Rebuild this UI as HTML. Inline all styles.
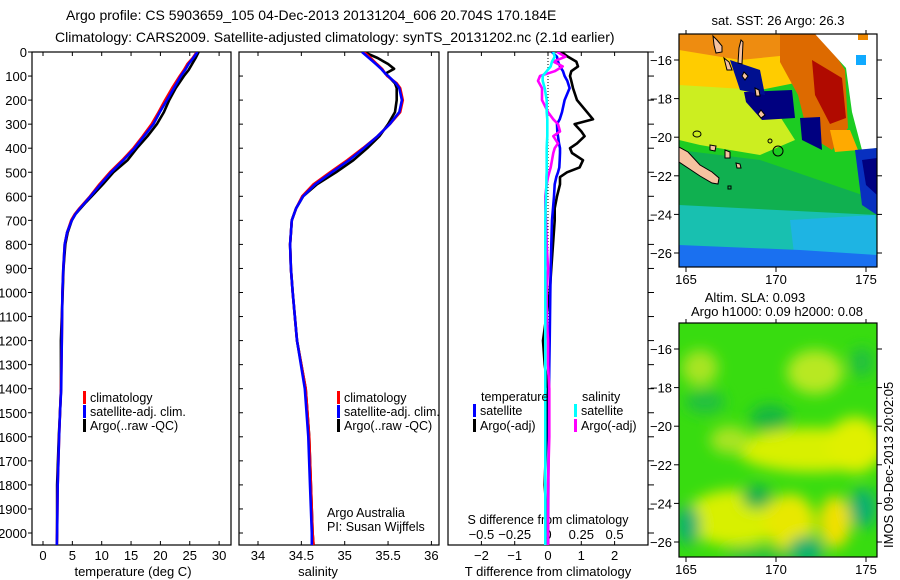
<!DOCTYPE html>
<html><head><meta charset="utf-8"><style>
body{margin:0;background:#fff;}
svg{display:block;font-family:"Liberation Sans",sans-serif;}
text{fill:#000;}
</style></head><body>
<svg id="fig" width="900" height="580" viewBox="0 0 900 580">
<defs>
<filter id="blur8" x="-20%" y="-20%" width="140%" height="140%"><feGaussianBlur stdDeviation="7"/></filter>
<clipPath id="m1clip"><rect x="679" y="34" width="198" height="233"/></clipPath>
<clipPath id="m2clip"><rect x="679" y="323" width="198" height="234"/></clipPath>
<clipPath id="p1c"><rect x="32" y="52" width="199" height="493"/></clipPath>
<clipPath id="p2c"><rect x="239" y="52" width="200" height="493"/></clipPath>
<clipPath id="p3c"><rect x="448" y="52" width="200" height="493"/></clipPath>
</defs>
<text x="66" y="20" font-size="14">Argo profile: CS 5903659_105 04-Dec-2013 20131204_606 20.704S 170.184E</text>
<text x="55" y="42" font-size="14">Climatology: CARS2009. Satellite-adjusted climatology: synTS_20131202.nc (2.1d earlier)</text>

<g id="panels"></g>

<!-- SST map -->
<g>
<text x="778" y="25" font-size="13" text-anchor="middle">sat. SST: 26 Argo: 26.3</text>
<g clip-path="url(#m1clip)">
<rect x="679" y="34" width="198" height="233" fill="#1ccc22"/>
<polygon points="679,150 760,160 877,200 877,267 679,267" fill="#10b050"/>
<polygon points="679,205 877,215 877,267 679,267" fill="#18c0b0"/>
<polygon points="790,220 875,215 877,262 795,262" fill="#20b0f0" opacity="0.8"/>
<polygon points="679,245 800,250 877,255 877,267 679,267" fill="#1a70f0"/>
<polygon points="679,80 760,85 795,140 760,155 700,145 679,140" fill="#ccee20"/>
<polygon points="679,34 800,34 810,80 760,90 679,85" fill="#ffcc00"/>
<polygon points="679,34 790,34 790,55 740,60 679,50" fill="#ee8c10"/>
<polygon points="780,34 822,34 845,70 848,128 832,150 808,135 798,95 780,62" fill="#dd6a00"/>
<polygon points="812,60 842,78 846,118 830,124 815,95" fill="#b00a00"/>
<polygon points="830,130 850,130 858,150 835,152" fill="#ffaa00"/>
<polygon points="815,34 877,34 877,148 862,150 852,112 846,68" fill="#ffffff"/>
<rect x="856" y="55" width="10" height="10" fill="#10aaff"/>
<rect x="858" y="34" width="10" height="6" fill="#ee8800"/>
<polygon points="744,92 792,90 795,118 762,120 746,102" fill="#000080"/>
<polygon points="730,60 760,70 765,95 740,90" fill="#001090"/>
<polygon points="800,118 820,117 822,150 802,140" fill="#000080"/>
<polygon points="855,150 877,148 877,215 862,205" fill="#0830c0"/>
<polygon points="862,160 877,158 877,195 866,185" fill="#000080"/>
</g>
<rect x="679" y="34" width="198" height="233" fill="none" stroke="#000" stroke-width="1.2"/>
</g>

<!-- SLA map -->
<g>
<text x="755" y="302" font-size="13" text-anchor="middle">Altim. SLA: 0.093</text>
<text x="777" y="316" font-size="13" text-anchor="middle">Argo h1000: 0.09 h2000: 0.08</text>
<g clip-path="url(#m2clip)">
<rect x="679" y="323" width="198" height="234" fill="#38dc10"/>
<g filter="url(#blur8)">
<ellipse cx="812" cy="450" rx="75" ry="22" fill="#d8f000"/>
<ellipse cx="855" cy="445" rx="28" ry="28" fill="#e0f000"/>
<ellipse cx="735" cy="518" rx="50" ry="28" fill="#d8f000"/>
<ellipse cx="790" cy="522" rx="25" ry="28" fill="#e8e800"/>
<ellipse cx="835" cy="522" rx="16" ry="26" fill="#f0e000"/>
<ellipse cx="815" cy="372" rx="28" ry="22" fill="#b8e820"/>
<ellipse cx="700" cy="368" rx="18" ry="18" fill="#a8e420"/>
<ellipse cx="730" cy="440" rx="20" ry="14" fill="#a8e420"/>
<ellipse cx="770" cy="418" rx="20" ry="14" fill="#18b840"/>
<ellipse cx="757" cy="497" rx="15" ry="12" fill="#18b050"/>
<ellipse cx="806" cy="550" rx="18" ry="14" fill="#10b070"/>
<ellipse cx="863" cy="508" rx="14" ry="20" fill="#10b070"/>
<ellipse cx="688" cy="525" rx="12" ry="20" fill="#10b070"/>
<ellipse cx="705" cy="402" rx="20" ry="12" fill="#20c040"/>
<ellipse cx="862" cy="362" rx="12" ry="15" fill="#20c040"/>
<ellipse cx="760" cy="555" rx="35" ry="8" fill="#20c040"/>
</g>
</g>
<rect x="679" y="323" width="198" height="234" fill="none" stroke="#000" stroke-width="1.2"/>
</g>
<text transform="translate(893,548) rotate(-90)" font-size="13">IMOS 09-Dec-2013 20:02:05</text>

<g id="maps-extra"></g>
</svg>
<script>
// ---------- profile data ----------
const depthT = [0,25,50,75,100,150,200,250,300,350,400,450,500,550,600,625,650,675,700,750,800,900,1000,1200,1400,1500,1600,1800,2000,2050];
const tempClim = [26.2,25.5,24.6,24.0,23.3,22.0,20.8,19.7,18.5,17.0,15.4,13.5,11.4,9.6,8.0,7.1,6.2,5.4,4.8,4.1,3.7,3.45,3.3,3.2,3.07,2.9,2.75,2.5,2.4,2.35];
const tempSat = [26.3,25.6,24.8,24.2,23.5,22.3,21.1,19.9,18.8,17.2,15.6,13.7,11.6,9.8,8.1,7.2,6.3,5.5,4.9,4.1,3.7,3.45,3.3,3.2,3.1,2.9,2.75,2.5,2.4,2.35];
const tempArgo = [26.5,26.0,25.4,24.8,24.0,22.6,21.5,20.6,19.4,17.8,16.0,14.4,12.0,10.2,8.3,7.3,6.4,5.5,4.9,4.2,3.8,3.5,3.35,3.05,3.07,2.9,2.7,2.4,2.4,2.35];
const depthS = [0,25,50,70,90,100,130,150,200,250,300,350,400,450,500,550,600,650,700,800,900,1000,1200,1400,1600,1800,2000,2050];
const salClim = [35.22,35.3,35.37,35.43,35.47,35.49,35.6,35.64,35.67,35.64,35.52,35.38,35.21,35.03,34.83,34.64,34.51,34.44,34.39,34.37,34.38,34.40,34.45,34.55,34.59,34.61,34.63,34.64];
const salSat = [35.2,35.28,35.36,35.42,35.47,35.5,35.59,35.63,35.66,35.63,35.52,35.38,35.22,35.05,34.85,34.66,34.52,34.44,34.39,34.37,34.38,34.40,34.45,34.54,34.58,34.60,34.62,34.62];
const salArgo = [35.22,35.38,35.5,35.57,35.47,35.5,35.58,35.6,35.6,35.58,35.5,35.4,35.26,35.1,34.9,34.68,34.52,34.44,34.39,34.37,34.38,34.40,34.45,34.55,34.59,34.61,34.63,34.64];
const depthD = [0,20,40,60,80,100,120,150,200,250,280,300,330,350,380,400,420,450,480,500,520,550,600,650,700,800,900,1000,1100,1200,1300,1400,1600,1800,2000,2050];
const dTArgo = [0.4,0.6,0.85,0.9,0.7,0.66,0.7,0.75,0.87,1.17,1.35,0.8,1.0,1.1,0.87,0.66,0.72,1.05,0.95,0.57,0.36,0.36,0.27,0.2,0.2,0.15,0.1,0.05,-0.05,-0.15,-0.1,0,-0.05,-0.1,0,0];
const dTSat = [0.12,0.27,0.3,0.36,0.45,0.5,0.58,0.65,0.5,0.42,0.35,0.27,0.28,0.3,0.33,0.36,0.36,0.35,0.34,0.3,0.25,0.2,0.18,0.15,0.12,0.1,0.08,0.07,0.06,0.05,0.04,0.03,0.02,0.01,0,0];
const dSArgo = [0.07,0.13,0.04,0.11,0.05,-0.06,-0.075,-0.045,-0.045,0,0.04,0.075,0.09,0.04,0.075,0.05,0.04,0.03,0.02,0.01,0,-0.01,-0.02,-0.02,-0.015,-0.01,0,-0.01,-0.01,0,0,0.01,0.01,0,0,0];
const dSSat = [0.04,0.05,0.03,0.02,-0.01,-0.04,-0.04,-0.025,-0.01,-0.01,-0.005,-0.005,-0.005,-0.005,-0.008,-0.01,-0.01,-0.01,-0.01,-0.01,-0.012,-0.012,-0.015,-0.018,-0.02,-0.02,-0.02,-0.02,-0.02,-0.02,-0.02,-0.02,-0.02,-0.02,-0.02,-0.02];
const depthTicks = [0,100,200,300,400,500,600,700,800,900,1000,1100,1200,1300,1400,1500,1600,1700,1800,1900,2000];
const tempTicks = [0,5,10,15,20,25,30];
const salTicks = [34,34.5,35,35.5,36];
const dTTicks = [-2,-1,0,1,2];
const dSTicks = [-0.5,-0.25,0,0.25,0.5];
const latTicks = [-16,-18,-20,-22,-24,-26];
const lonTicks = [165,170,175];

const NS='http://www.w3.org/2000/svg';
const G=document.getElementById('panels');
function mk(tag,attrs,parent){const e=document.createElementNS(NS,tag);for(const k in attrs)e.setAttribute(k,attrs[k]);(parent||G).appendChild(e);return e;}
const yD=d=>52+d*0.2405;
const xT=v=>43+v*5.87;
const xS=v=>258+(v-34)*86.7;
const xDT=v=>548+v*33.3;
const xDS=v=>548+v*133.2;

function box(x,y,w,h,name){const r=mk('rect',{x:x,y:y,width:w,height:h,fill:'none',stroke:'#000','stroke-width':1.2});}
function line(x1,y1,x2,y2,parent){const l=mk('line',{x1:x1,y1:y1,x2:x2,y2:y2,stroke:'#000','stroke-width':1},parent);return l;}
function txt(x,y,s,size,anchor,name,parent){const t=mk('text',{x:x,y:y,'font-size':size,'text-anchor':anchor||'start'},parent);t.textContent=s;return t;}
function series(xs,ds,xf,color,clip,name){
  const pts=xs.map((v,i)=>xf(v).toFixed(1)+','+yD(ds[i]).toFixed(1)).join(' ');
  const p=mk('polyline',{points:pts,fill:'none',stroke:color,'stroke-width':2.6,'stroke-linejoin':'round','clip-path':'url(#'+clip+')'});
  
  
}
function legendEntry(x,y,color,label,name){
  const r=mk('rect',{x:x,y:y-11,width:3,height:13,fill:color});
  
  
  txt(x+7,y,label,12.5,'start',name);
}

// panel 1
box(32,52,199,493,'temperature-panel');
depthTicks.forEach(d=>{line(28,yD(d),32,yD(d));txt(27,yD(d)+5,String(d),13,'end','depth-tick-label');});
tempTicks.forEach(v=>{line(xT(v),545,xT(v),541);line(xT(v),52,xT(v),56);txt(xT(v),560,String(v),13,'middle','temperature-tick-label');});
txt(133,576,'temperature (deg C)',13,'middle','temperature-axis-title');
series(tempArgo,depthT,xT,'#000','p1c','temperature-argo-line');
series(tempClim,depthT,xT,'#f00','p1c','temperature-climatology-line');
series(tempSat,depthT,xT,'#00f','p1c','temperature-satellite-line');
legendEntry(83,402,'#f00','climatology','legend-climatology');
legendEntry(83,416,'#00f','satellite-adj. clim.','legend-satellite');
legendEntry(83,430,'#000','Argo(..raw -QC)','legend-argo');

// panel 2
box(239,52,200,493,'salinity-panel');
depthTicks.forEach(d=>{line(239,yD(d),243,yD(d));});
salTicks.forEach(v=>{line(xS(v),545,xS(v),541);line(xS(v),52,xS(v),56);txt(xS(v),560,String(v),13,'middle','salinity-tick-label');});
txt(318,576,'salinity',13,'middle','salinity-axis-title');
series(salArgo,depthS,xS,'#000','p2c','salinity-argo-line');
series(salClim,depthS,xS,'#f00','p2c','salinity-climatology-line');
series(salSat,depthS,xS,'#00f','p2c','salinity-satellite-line');
legendEntry(337,402,'#f00','climatology','legend-climatology-2');
legendEntry(337,416,'#00f','satellite-adj. clim.','legend-satellite-2');
legendEntry(337,430,'#000','Argo(..raw -QC)','legend-argo-2');
txt(327,517,'Argo Australia',12.5,'start','float-owner-label');
txt(327,531,'PI: Susan Wijffels',12.5,'start','pi-label');

// panel 3
box(448,52,200,493,'difference-panel');
depthTicks.forEach(d=>{line(648,yD(d),654,yD(d));});
dTTicks.forEach(v=>{line(xDT(v),545,xDT(v),541);line(xDT(v),52,xDT(v),56);txt(xDT(v),560,String(v).replace('-','\u2212'),13,'middle','t-diff-tick-label');});
dSTicks.forEach(v=>{txt(xDS(v),539,String(v).replace('-','\u2212'),13,'middle','s-diff-tick-label');});
txt(548,524,'S difference from climatology',12.5,'middle','s-diff-axis-title');
txt(548,576,'T difference from climatology',13,'middle','t-diff-axis-title');
const zl=mk('line',{x1:548,y1:52,x2:548,y2:545,stroke:'#000','stroke-width':1,'stroke-dasharray':'1,2'});


series(dTArgo,depthD,xDT,'#000','p3c','t-diff-argo-line');
series(dTSat,depthD,xDT,'#00f','p3c','t-diff-satellite-line');
series(dSArgo,depthD,xDS,'#f0f','p3c','s-diff-argo-line');
series(dSSat,depthD,xDS,'#0ff','p3c','s-diff-satellite-line');
txt(481,401,'temperature',12.5,'start','legend-temperature-heading');
legendEntry(473,415,'#00f','satellite','legend-t-satellite');
legendEntry(473,430,'#000','Argo(-adj)','legend-t-argo');
txt(582,401,'salinity',12.5,'start','legend-salinity-heading');
legendEntry(574,415,'#0ff','satellite','legend-s-satellite');
legendEntry(574,430,'#f0f','Argo(-adj)','legend-s-argo');

// maps: axes, land, argo position
const E=document.getElementById('maps-extra');
const mx=lon=>686+(lon-165)*18;
function mapAxes(off,prefix){
  const bot=off?557:267, top=off?323:34;
  latTicks.forEach(la=>{const y=60+(-16-la)*19.3+off;
    line(674,y,679,y,E);
    line(877,y,882,y,E);
    txt(672,y+5,String(la).replace('-','\u2212'),13,'end',prefix+'-lat-label',E);});
  lonTicks.forEach(lo=>{
    line(mx(lo),bot,mx(lo),bot+5,E);
    line(mx(lo),top,mx(lo),top-4,E);
    txt(mx(lo),bot+17,String(lo),13,'middle',prefix+'-lon-label',E);});
  const g=mk('g',{transform:'translate(0,'+off+')','clip-path':'url(#'+(off?'m2clip':'m1clip')+')'},E);
  
  
  const land={fill:'#f6c2a0',stroke:'#000','stroke-width':1};
  mk('polygon',Object.assign({points:'679,147 688,152 700,165 712,172 719,178 718,184 712,183 700,176 688,168 679,162'},land),g);
  mk('polygon',Object.assign({points:'713,36 717,40 722,46 722,52 716,53 714,45'},land),g);
  mk('polygon',Object.assign({points:'724,58 729,62 732,70 727,70'},land),g);
  mk('polygon',Object.assign({points:'741,40 743,42 742,64 738,63 739,48'},land),g);
  mk('polygon',Object.assign({points:'744,72 748,76 745,80 742,76'},land),g);
  mk('polygon',Object.assign({points:'755,88 759,90 760,96 756,96'},land),g);
  mk('polygon',Object.assign({points:'761,110 765,115 761,118 758,114'},land),g);
  mk('polygon',Object.assign({points:'725,150 730,152 730,158 725,158'},land),g);
  mk('polygon',Object.assign({points:'736,163 740,164 741,168 737,168'},land),g);
  mk('polygon',Object.assign({points:'710,145 716,146 715,151 710,150'},land),g);
  mk('ellipse',{cx:697,cy:134,rx:4,ry:3,fill:'none',stroke:'#000','stroke-width':1},g);
  mk('ellipse',{cx:770,cy:141,rx:2,ry:2,fill:'none',stroke:'#000','stroke-width':1},g);
  mk('rect',{x:728,y:186,width:3,height:3,fill:'none',stroke:'#000','stroke-width':1},g);
  const c=mk('circle',{cx:778,cy:151,r:5,fill:'none',stroke:'#000','stroke-width':1},g);
  
  
}
mapAxes(0,'sst-map');
mapAxes(289,'sla-map');
</script>
</body></html>
